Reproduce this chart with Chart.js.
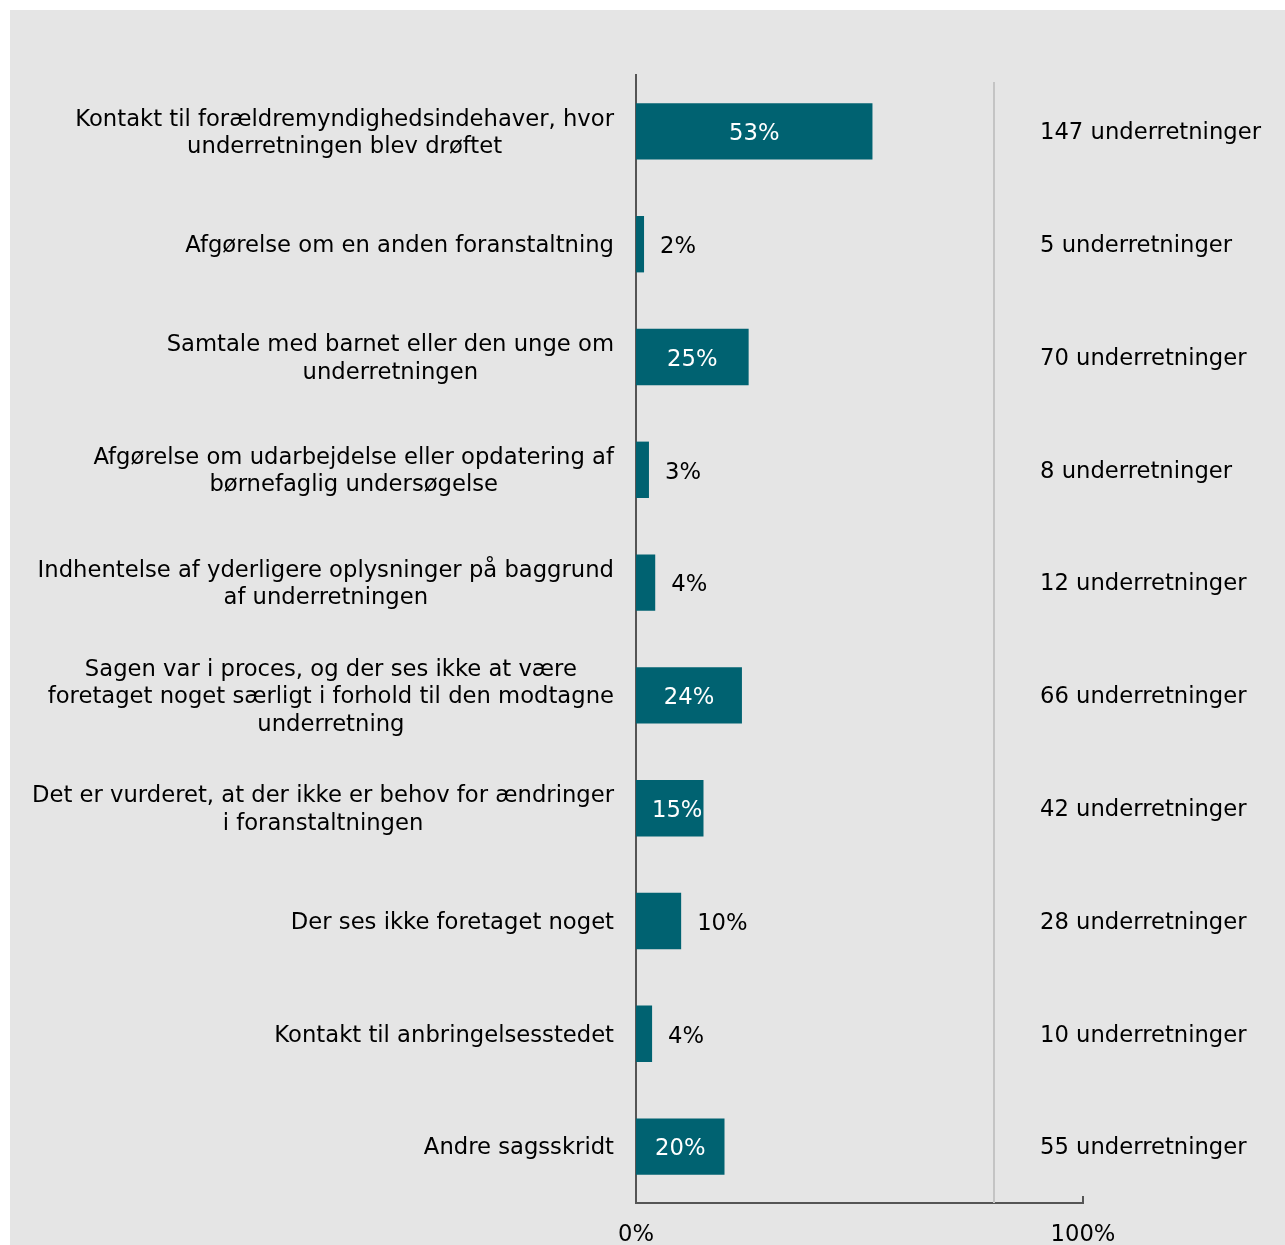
<!DOCTYPE html>
<html><head><meta charset="utf-8">
<script src="https://cdn.jsdelivr.net/npm/chart.js@4"></script>
<style>
html,body{margin:0;padding:0;background:#fff;}
#wrap{position:absolute;left:10px;top:10px;width:1275px;height:1235px;background:#e5e5e5;}
canvas{display:block;}
</style></head><body>
<div id="wrap"><canvas id="c" width="1275" height="1235"></canvas></div>
<script>
const categories = [
  ["Kontakt til forældremyndighedsindehaver, hvor", "underretningen blev drøftet"],
  ["Afgørelse om en anden foranstaltning"],
  ["Samtale med barnet eller den unge om", "underretningen"],
  ["Afgørelse om udarbejdelse eller opdatering af", "børnefaglig undersøgelse"],
  ["Indhentelse af yderligere oplysninger på baggrund", "af underretningen"],
  ["Sagen var i proces, og der ses ikke at være", "foretaget noget særligt i forhold til den modtagne", "underretning"],
  ["Det er vurderet, at der ikke er behov for ændringer", "i foranstaltningen"],
  ["Der ses ikke foretaget noget"],
  ["Kontakt til anbringelsesstedet"],
  ["Andre sagsskridt"]
];
const shares = [52.9, 1.8, 25.2, 2.9, 4.3, 23.7, 15.1, 10.1, 3.6, 19.8];
const shareLabels = ["53%", "2%", "25%", "3%", "4%", "24%", "15%", "10%", "4%", "20%"];
const counts = [147, 5, 70, 8, 12, 66, 42, 28, 10, 55];
const countSuffix = " underretninger";
const xMin = 0, xMax = 100, xStep = 100;
const separatorAt = 80;

const FAMILY = "'DejaVu Sans', Verdana, sans-serif";
const FS = 22.7;
Chart.defaults.font.family = FAMILY;
Chart.defaults.font.size = FS;
Chart.defaults.color = '#000';

const overlay = {
  id: 'overlay',
  beforeDatasetsDraw(chart) {
    const ctx = chart.ctx, x = chart.scales.x, ca = chart.chartArea;
    ctx.save();
    const sx = Math.round(x.getPixelForValue(separatorAt));
    ctx.strokeStyle = '#c4c4c4';
    ctx.lineWidth = 2;
    ctx.beginPath();
    ctx.moveTo(sx, ca.top + 7);
    ctx.lineTo(sx, ca.bottom);
    ctx.stroke();
    ctx.restore();
  },
  afterDraw(chart) {
    const ctx = chart.ctx, x = chart.scales.x, ca = chart.chartArea;
    ctx.save();
    const tx = Math.round(x.getPixelForValue(xMax));
    ctx.strokeStyle = '#555';
    ctx.lineWidth = 2;
    ctx.beginPath();
    ctx.moveTo(tx, ca.bottom - 7);
    ctx.lineTo(tx, ca.bottom);
    ctx.stroke();

    ctx.font = FS + 'px ' + FAMILY;
    ctx.textBaseline = 'middle';
    const dy = 2;
    const meta = chart.getDatasetMeta(0);
    meta.data.forEach((bar, i) => {
      const v = shares[i];
      const lbl = shareLabels[i];
      ctx.textAlign = 'left';
      if (v >= 15) {
        ctx.fillStyle = '#fff';
        const w = ctx.measureText(lbl).width;
        const left = Math.max((bar.x + bar.base) / 2 - w / 2, bar.base + 16);
        ctx.fillText(lbl, left, bar.y + dy + 1);
      } else {
        ctx.fillStyle = '#000';
        ctx.fillText(lbl, bar.x + 16, bar.y + dy + 1);
      }
      ctx.fillStyle = '#000';
      ctx.fillText(counts[i] + countSuffix, ca.right - 43, bar.y + dy);

      const lines = categories[i];
      const lh = 27.5;
      const maxW = Math.max(...lines.map(l => ctx.measureText(l).width));
      const cx = ca.left - 22 - maxW / 2;
      ctx.textAlign = 'center';
      lines.forEach((l, k) => {
        ctx.fillText(l, cx, bar.y + dy + (k - (lines.length - 1) / 2) * lh);
      });
    });
    ctx.restore();
  }
};

new Chart(document.getElementById('c'), {
  type: 'bar',
  data: {
    labels: categories.map(l => l.join(' ')),
    datasets: [{
      data: shares,
      backgroundColor: '#006271',
      borderWidth: 0,
      barPercentage: 0.5,
      categoryPercentage: 1.0
    }]
  },
  options: {
    indexAxis: 'y',
    responsive: false,
    animation: false,
    devicePixelRatio: 1,
    layout: { padding: { left: 626, top: 65, right: 202, bottom: 0 } },
    plugins: { legend: { display: false }, tooltip: { enabled: false } },
    scales: {
      x: {
        min: xMin, max: xMax,
        grid: { display: false, drawTicks: false },
        border: { display: true, color: '#555', width: 2 },
        ticks: { stepSize: xStep, padding: 18, color: '#000', callback: v => v + '%', maxRotation: 0 },
        afterFit: s => { s.height = 42; }
      },
      y: {
        grid: { display: false, drawTicks: false },
        border: { display: true, color: '#555', width: 2 },
        ticks: { display: false }
      }
    }
  },
  plugins: [overlay]
});
</script>
</body></html>
